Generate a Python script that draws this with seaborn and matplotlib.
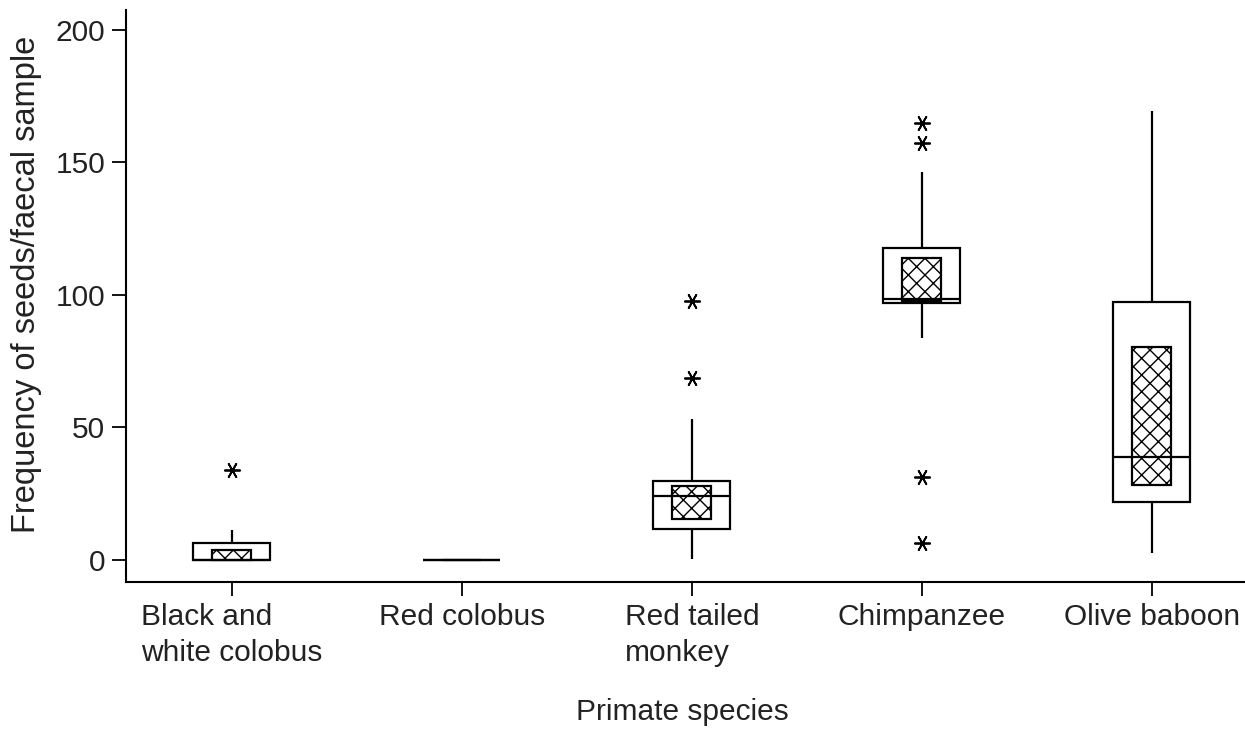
import pandas as pd
import numpy as np
import matplotlib
matplotlib.use('Agg')
import matplotlib.pyplot as plt
import seaborn as sns

species = [
    'Black and\nwhite colobus',
    'Red colobus',
    'Red tailed\nmonkey',
    'Chimpanzee',
    'Olive baboon',
]
# five-number summary (whiskers, quartiles, median)
whisker_low = [0, 0, 0.4, 83.8, 2.6]
q1 = [0, 0, 11.8, 97.0, 21.9]
median = [0, 0, 24.2, 98.4, 38.9]
q3 = [6.4, 0, 29.8, 117.7, 97.4]
whisker_high = [11.3, 0, 53.2, 146.4, 169.4]
# median confidence interval (hatched inner box)
ci_low = [0, 0, 15.5, 97.8, 28.3]
ci_high = [3.8, 0, 27.9, 114.0, 80.4]
# outliers
outlier_species = [
    'Black and\nwhite colobus',
    'Red tailed\nmonkey',
    'Red tailed\nmonkey',
    'Chimpanzee',
    'Chimpanzee',
    'Chimpanzee',
    'Chimpanzee',
]
outlier_values = [34.0, 68.7, 97.7, 6.4, 31.3, 157.4, 165.0]

sns.set_style('ticks')
plt.rcParams['font.family'] = ['Liberation Sans', 'DejaVu Sans']
plt.rcParams['hatch.linewidth'] = 1.0

rows = []
for i, sp in enumerate(species):
    for v in [whisker_low[i], q1[i], median[i], q3[i], whisker_high[i]]:
        rows.append({'species': sp, 'value': v})
df = pd.DataFrame(rows)
out_df = pd.DataFrame({'species': outlier_species, 'value': outlier_values})

fig = plt.figure(figsize=(12.45, 7.34), dpi=100)
ax = fig.add_axes([0.1012, 0.2071, 0.8988, 0.7793])

sns.boxplot(
    data=df, x='species', y='value', order=species, ax=ax,
    whis=(0, 100), width=0.335, color='white', linecolor='black',
    linewidth=1.6, showcaps=False, showfliers=False,
    medianprops={'color': 'black', 'zorder': 4},
)

pos = np.arange(len(species))
ax.bar(
    pos, np.array(ci_high) - np.array(ci_low), bottom=ci_low, width=0.17,
    color='white', edgecolor='black', hatch='xx', linewidth=1.6, zorder=3,
)

sns.stripplot(
    data=out_df, x='species', y='value', order=species, ax=ax,
    jitter=False, marker=(6, 2, 90), size=11, color='black',
    linewidth=1.3, edgecolor='black', zorder=5,
)

ax.set_xlim(-0.46, 4.405)
ax.set_ylim(-8.3, 207.5)
ax.set_yticks([0, 50, 100, 150, 200])
ax.tick_params(axis='both', labelsize=21.5, length=10, width=1.3, pad=5,
               color='black', labelcolor='#222222')
for lbl in ax.get_xticklabels():
    lbl.set_multialignment('left')
    lbl.set_linespacing(1.38)

ax.set_xlabel('Primate species', fontsize=21.5, color='#222222')
ax.set_ylabel('Frequency of seeds/faecal sample', fontsize=23.5, color='#222222')
ax.xaxis.set_label_coords(0.497, -0.203)
ax.yaxis.set_label_coords(-0.075, 0.521)

sns.despine(ax=ax)
for s in ['left', 'bottom']:
    ax.spines[s].set_linewidth(1.5)
    ax.spines[s].set_color('black')

fig.savefig('out.png', dpi=100)
